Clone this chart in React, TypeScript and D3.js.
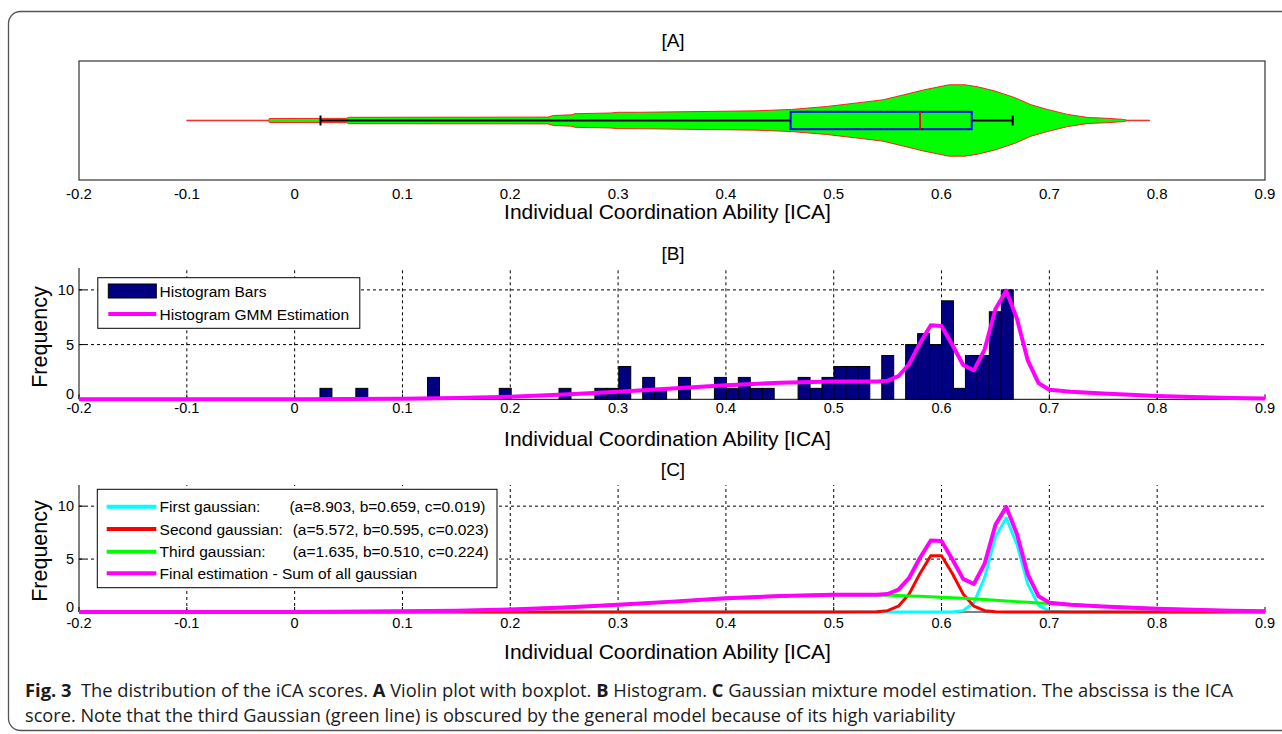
import React from 'react';
import * as d3 from 'd3';

// ---------- data ----------
const xTicks = [-0.2, -0.1, 0, 0.1, 0.2, 0.3, 0.4, 0.5, 0.6, 0.7, 0.8, 0.9];
const xTickLabels = ['-0.2', '-0.1', '0', '0.1', '0.2', '0.3', '0.4', '0.5', '0.6', '0.7', '0.8', '0.9'];
const yTicks = [0, 5, 10];
const yTickLabels = ['0', '5', '10'];

// violin (kernel density profile, relative)
const violinX = [-0.1, -0.024, -0.0235, 0.048, 0.05, 0.235, 0.24, 0.257, 0.26, 0.293, 0.3, 0.32, 0.427, 0.461, 0.493, 0.524, 0.546, 0.565, 0.584, 0.607, 0.622, 0.634, 0.649, 0.668, 0.683, 0.698, 0.717, 0.736, 0.752, 0.769, 0.772, 0.793];
const violinDensity = [0.008, 0.008, 0.055, 0.06, 0.09, 0.095, 0.14, 0.16, 0.19, 0.21, 0.23, 0.23, 0.27, 0.31, 0.39, 0.5, 0.58, 0.72, 0.86, 1.0, 1.0, 0.94, 0.83, 0.64, 0.44, 0.31, 0.17, 0.083, 0.064, 0.03, 0.008, 0.008];
// boxplot: lower whisker, q1, median, q3, upper whisker
const boxStats = [0.024, 0.46, 0.58, 0.628, 0.666];

// histogram (58 equal bins between min and max)
const histRange = [0.0235, 0.6665];
const histCounts = [1, 0, 0, 1, 0, 0, 0, 0, 0, 2, 0, 0, 0, 0, 0, 1, 0, 0, 0, 0, 1, 0, 0, 1, 1, 3, 0, 2, 1, 0, 2, 0, 0, 2, 1, 2, 1, 1, 0, 0, 2, 1, 2, 3, 3, 3, 0, 4, 0, 5, 6, 5, 9, 1, 4, 4, 8, 10];

// gaussian mixture curves
const gmmX = [-0.2, -0.1, 0, 0.1, 0.15, 0.2, 0.25, 0.3, 0.35, 0.4, 0.45, 0.5, 0.54, 0.55, 0.56, 0.57, 0.58, 0.59, 0.6, 0.61, 0.62, 0.63, 0.64, 0.65, 0.66, 0.67, 0.68, 0.69, 0.7, 0.72, 0.75, 0.8, 0.85, 0.87, 0.9];
const gauss1 = [0, 0, 0, 0, 0, 0, 0, 0, 0, 0, 0, 0, 0, 0, 0, 0, 0, 0, 0, 0.01, 0.13, 0.87, 3.28, 7.12, 8.88, 6.37, 2.63, 0.62, 0.08, 0, 0, 0, 0, 0, 0];
const gauss2 = [0, 0, 0, 0, 0, 0, 0, 0, 0, 0, 0, 0, 0.02, 0.12, 0.55, 1.71, 3.64, 5.32, 5.32, 3.64, 1.71, 0.55, 0.12, 0.02, 0, 0, 0, 0, 0, 0, 0, 0, 0, 0, 0];
const gauss3 = [0, 0, 0.01, 0.06, 0.12, 0.24, 0.43, 0.68, 0.98, 1.29, 1.52, 1.63, 1.6, 1.58, 1.56, 1.52, 1.48, 1.44, 1.39, 1.34, 1.29, 1.23, 1.17, 1.11, 1.05, 0.98, 0.92, 0.86, 0.8, 0.68, 0.52, 0.31, 0.16, 0.12, 0.08];
const gmmSum = [0, 0, 0.01, 0.06, 0.12, 0.24, 0.43, 0.68, 0.98, 1.29, 1.52, 1.63, 1.62, 1.7, 2.11, 3.23, 5.12, 6.76, 6.71, 4.99, 3.13, 2.65, 4.57, 8.25, 9.93, 7.35, 3.55, 1.48, 0.88, 0.68, 0.52, 0.31, 0.16, 0.12, 0.08];

const legendBLabels = ['Histogram Bars', 'Histogram GMM Estimation'];
const legendCNames = ['First gaussian:', 'Second gaussian:', 'Third gaussian:', 'Final estimation - Sum of all gaussian'];
const legendCParams = ['(a=8.903, b=0.659, c=0.019)', '(a=5.572, b=0.595, c=0.023)', '(a=1.635, b=0.510, c=0.224)', ''];
const legendCColors = ['#00ffff', '#ff0000', '#00ff00', '#ff00ff'];

const xLabel = 'Individual Coordination Ability [ICA]';
const yLabel = 'Frequency';
const panelTitles = ['[A]', '[B]', '[C]'];

// ---------- layout ----------
const W = 1282, H = 734;
const FONT = '"Liberation Sans", Arial, Helvetica, sans-serif';
const x = d3.scaleLinear().domain([-0.2, 0.9]).range([79, 1265]);
const yA = d3.scaleLinear().domain([0.5, 1.5]).range([180, 61]);
const yB = d3.scaleLinear().domain([0, 12]).range([399.3, 268]);
const yC = d3.scaleLinear().domain([0, 12]).range([612, 485]);

function Axes({ y, tickBaseline, labelBaseline, title, titleBaseline, freqY }: any) {
  const y0 = y(0), yTop = y(12);
  return (
    <g>
      {/* grid */}
      {xTicks.slice(1, -1).map((t, i) => (
        <line key={'gx' + i} x1={x(t)} x2={x(t)} y1={y0} y2={yTop} stroke="#000" strokeWidth={1} strokeDasharray="3,3" />
      ))}
      {yTicks.slice(1).map((t, i) => (
        <line key={'gy' + i} x1={x(-0.2)} x2={x(0.9)} y1={y(t)} y2={y(t)} stroke="#000" strokeWidth={1} strokeDasharray="3,3" />
      ))}
      {/* axes */}
      <line x1={x(-0.2)} x2={x(0.9)} y1={y0} y2={y0} stroke="#000" strokeWidth={1} />
      <line x1={x(-0.2)} x2={x(-0.2)} y1={y0} y2={yTop} stroke="#000" strokeWidth={1} />
      {yTicks.map((t, i) => (
        <line key={'ty' + i} x1={x(-0.2)} x2={x(-0.2) + 6} y1={y(t)} y2={y(t)} stroke="#000" />
      ))}
      {xTicks.map((t, i) => (
        <line key={'tx' + i} x1={x(t)} x2={x(t)} y1={y0} y2={y0 - 5} stroke="#000" />
      ))}
      {xTicks.map((t, i) => (
        <text key={'lx' + i} x={x(t)} y={tickBaseline} textAnchor="middle" fontFamily={FONT} fontSize={14.5}>{xTickLabels[i]}</text>
      ))}
      {yTicks.map((t, i) => (
        <text key={'ly' + i} x={74} y={y(t) + (t === 0 ? 0 : 5)} textAnchor="end" fontFamily={FONT} fontSize={14.5}>{yTickLabels[i]}</text>
      ))}
      <text x={667.5} y={labelBaseline} textAnchor="middle" fontFamily={FONT} fontSize={21}>{xLabel}</text>
      <text x={673} y={titleBaseline} textAnchor="middle" fontFamily={FONT} fontSize={19}>{title}</text>
      <text transform={`translate(47,${freqY}) rotate(-90)`} textAnchor="middle" fontFamily={FONT} fontSize={21.5}>{yLabel}</text>
    </g>
  );
}

export default function App() {
  // violin
  const violinPts = violinX.map((v, i) => ({ v, d: violinDensity[i] }));
  const violinArea = d3.area<any>()
    .x((p) => x(p.v))
    .y0((p) => yA(1 - p.d * 0.3))
    .y1((p) => yA(1 + p.d * 0.3))
    .curve(d3.curveLinear);
  const [wLo, q1, med, q3, wHi] = boxStats;
  const boxHalf = 0.073, capHalf = 0.042;

  // histogram bins
  const nBins = histCounts.length;
  const binScale = d3.scaleLinear().domain([0, nBins]).range(histRange);

  const gmmLine = (ys: number[], yScale: any) =>
    d3.line<number>().x((_, i) => x(gmmX[i])).y((v) => yScale(v))(ys) || '';

  return (
    <svg width={W} height={H} style={{ position: 'absolute', left: 0, top: 0, background: '#fff' }} xmlns="http://www.w3.org/2000/svg">
      <rect x={0} y={0} width={W} height={H} fill="#fff" />
      {/* outer frame */}
      <rect x={8.5} y={11.5} width={1320} height={719} rx={12} ry={12} fill="none" stroke="#555" strokeWidth={1.3} />

      {/* ---------- Panel A ---------- */}
      <text x={673} y={47} textAnchor="middle" fontFamily={FONT} fontSize={19}>{panelTitles[0]}</text>
      <rect x={x(-0.2)} y={yA(1.5)} width={x(0.9) - x(-0.2)} height={yA(0.5) - yA(1.5)} fill="#fff" stroke="#333" strokeWidth={1.2} />
      <path d={violinArea(violinPts) || ''} fill="#00ff00" stroke="#ff2020" strokeWidth={1} />
      {/* whiskers */}
      <line x1={x(wLo)} x2={x(q1)} y1={yA(1)} y2={yA(1)} stroke="#000" strokeWidth={2} />
      <line x1={x(q3)} x2={x(wHi)} y1={yA(1)} y2={yA(1)} stroke="#000" strokeWidth={2} />
      <line x1={x(wLo)} x2={x(wLo)} y1={yA(1 - capHalf)} y2={yA(1 + capHalf)} stroke="#000" strokeWidth={2} />
      <line x1={x(wHi)} x2={x(wHi)} y1={yA(1 - capHalf)} y2={yA(1 + capHalf)} stroke="#000" strokeWidth={2} />
      <rect x={x(q1)} y={yA(1 + boxHalf)} width={x(q3) - x(q1)} height={yA(1 - boxHalf) - yA(1 + boxHalf)} fill="none" stroke="#0000ff" strokeWidth={2} />
      <line x1={x(med)} x2={x(med)} y1={yA(1 + boxHalf)} y2={yA(1 - boxHalf)} stroke="#ff0000" strokeWidth={2} />
      {xTicks.map((t, i) => (
        <text key={'al' + i} x={x(t)} y={199} textAnchor="middle" fontFamily={FONT} fontSize={15}>{xTickLabels[i]}</text>
      ))}
      <text x={667.5} y={219} textAnchor="middle" fontFamily={FONT} fontSize={21}>{xLabel}</text>

      {/* ---------- Panel B ---------- */}
      <Axes y={yB} tickBaseline={413} labelBaseline={446} title={panelTitles[1]} titleBaseline={260} freqY={337} />
      {histCounts.map((c, i) =>
        c > 0 ? (
          <rect key={'h' + i} x={x(binScale(i))} y={yB(c)} width={x(binScale(i + 1)) - x(binScale(i))} height={yB(0) - yB(c)} fill="#000080" stroke="#000" strokeWidth={1} />
        ) : null
      )}
      <path d={gmmLine(gmmSum, yB)} fill="none" stroke="#ff00ff" strokeWidth={4} strokeLinejoin="round" />
      {/* legend B */}
      <rect x={97.8} y={277.7} width={262} height={50.6} fill="#fff" stroke="#000" strokeWidth={1} />
      <rect x={108.3} y={284} width={48} height={14} fill="#000080" stroke="#000" strokeWidth={1} />
      <line x1={108.3} x2={156.3} y1={314} y2={314} stroke="#ff00ff" strokeWidth={4} />
      {legendBLabels.map((s, i) => (
        <text key={'lb' + i} x={159.6} y={[297, 319.5][i]} fontFamily={FONT} fontSize={15.5}>{s}</text>
      ))}

      {/* ---------- Panel C ---------- */}
      <Axes y={yC} tickBaseline={628} labelBaseline={659} title={panelTitles[2]} titleBaseline={476} freqY={551} />
      <path d={gmmLine(gauss1, yC)} fill="none" stroke="#00ffff" strokeWidth={3} strokeLinejoin="round" />
      <path d={gmmLine(gauss2, yC)} fill="none" stroke="#ff0000" strokeWidth={3} strokeLinejoin="round" />
      <path d={gmmLine(gauss3, yC)} fill="none" stroke="#00ff00" strokeWidth={3} strokeLinejoin="round" />
      <path d={gmmLine(gmmSum, yC)} fill="none" stroke="#ff00ff" strokeWidth={4} strokeLinejoin="round" />
      {/* legend C */}
      <rect x={97.3} y={489.3} width={399.7} height={98.4} fill="#fff" stroke="#000" strokeWidth={1} />
      {legendCNames.map((s, i) => {
        const cy = [506.7, 529, 551.7, 573.3][i];
        return (
          <g key={'lc' + i}>
            <line x1={106.7} x2={156.3} y1={cy} y2={cy} stroke={legendCColors[i]} strokeWidth={4} />
            <text x={159.6} y={cy + 5.5} fontFamily={FONT} fontSize={15.5}>{s}</text>
            <text x={[289.4, 292.7, 292.7, 0][i]} y={cy + 5.5} fontFamily={FONT} fontSize={15.5}>{legendCParams[i]}</text>
          </g>
        );
      })}

      {/* ---------- caption ---------- */}
      <text x={25} y={697} fontFamily='"Open Sans", "Noto Sans", sans-serif' fontSize={17.5} fill="#1a1a1a" textLength={1208} lengthAdjust="spacingAndGlyphs" style={{ whiteSpace: 'pre' }}>
        <tspan fontWeight="bold">Fig. 3</tspan>
        <tspan>{'  The distribution of the iCA scores. '}</tspan>
        <tspan fontWeight="bold">A</tspan>
        <tspan>{' Violin plot with boxplot. '}</tspan>
        <tspan fontWeight="bold">B</tspan>
        <tspan>{' Histogram. '}</tspan>
        <tspan fontWeight="bold">C</tspan>
        <tspan>{' Gaussian mixture model estimation. The abscissa is the ICA'}</tspan>
      </text>
      <text x={25} y={722} fontFamily='"Open Sans", "Noto Sans", sans-serif' fontSize={17.5} fill="#1a1a1a" textLength={930} lengthAdjust="spacingAndGlyphs">
        score. Note that the third Gaussian (green line) is obscured by the general model because of its high variability
      </text>
    </svg>
  );
}
